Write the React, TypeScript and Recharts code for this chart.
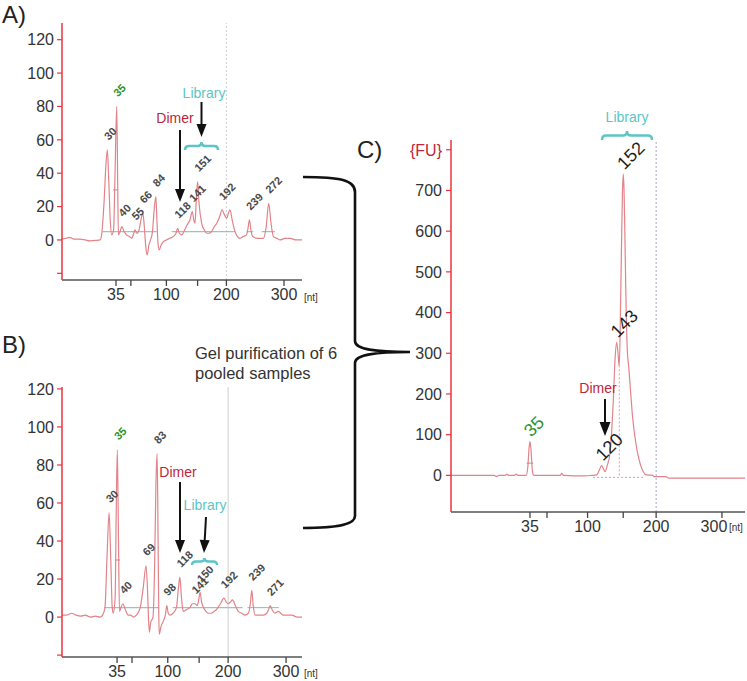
import React from 'react';
import { ComposedChart, Line, XAxis, YAxis, ReferenceLine, ReferenceDot } from 'recharts';

// x = migration position (arbitrary time units), y = fluorescence (FU)
const traceA: [number, number][] = [
  [18.75, 0.5], [19.6, 1], [20.4, 1.5], [21.2, 0.5], [22.5, 0.5], [23.6, 0], [24.6, -0.5], [25.8, -0.3],
  [26.7, 0], [27.0, 3], [27.5, 22], [27.9, 45], [28.2, 54], [28.5, 35], [28.8, 12], [29.1, 3], [29.5, 6],
  [29.8, 40], [30.15, 80], [30.35, 35], [30.5, 3], [30.85, 5], [31.2, 8], [31.7, 5], [32.2, 3], [32.8, 2],
  [33.3, 1], [33.7, 4], [33.95, 6], [34.3, 4], [34.8, 6], [35.2, 12], [35.6, 16], [35.9, 8], [36.2, -4],
  [36.5, -9], [36.85, -3], [37.2, 0], [37.6, 5], [37.95, 18], [38.3, 26], [38.55, 10], [38.75, -2], [39.0, -6],
  [39.4, -3], [39.85, -1], [40.5, 0], [41.25, 1], [41.9, 2], [42.5, 4], [42.85, 7], [43.2, 4], [43.7, 3],
  [44.3, 6], [44.8, 9], [45.4, 12], [45.9, 17], [46.2, 12], [46.45, 10], [46.75, 25], [47.0, 35], [47.3, 22],
  [47.85, 10], [48.4, 6], [48.9, 4], [49.4, 4], [49.9, 5], [50.5, 8], [51.0, 10], [51.6, 14], [52.1, 18],
  [52.6, 15], [53.1, 13], [53.4, 16], [53.75, 18], [54.2, 12], [54.8, 5], [55.3, 2], [55.8, 1], [56.5, 2],
  [57.2, 3], [57.5, 7], [57.8, 12], [58.1, 6], [58.5, 2], [59.5, 1], [60.7, 1], [61.3, 8], [61.8, 22],
  [62.3, 10], [62.8, 2], [63.5, 1], [64.2, 0], [65.2, 1], [66.25, 1], [67.5, 0], [68.75, 0],
];

const traceB: [number, number][] = [
  [18.6, 1], [19.5, 1], [20.6, 2], [21.5, 1], [22.5, 0.5], [23.4, 1], [24.5, 0], [25.5, 0.5], [26.5, 0],
  [27.0, 1], [27.5, 5], [27.9, 30], [28.35, 55], [28.7, 30], [29.0, 5], [29.2, 2], [29.6, 10], [29.85, 60],
  [30.06, 88], [30.3, 40], [30.5, 3], [30.8, 5], [31.2, 7], [31.7, 4], [32.3, 1], [32.8, 1], [33.4, 0],
  [34.0, 1], [34.8, 5], [35.4, 15], [36.0, 27], [36.3, 15], [36.5, 0], [36.7, -8], [36.95, -3], [37.45, 0],
  [37.8, 30], [38.05, 70], [38.3, 86], [38.5, 40], [38.65, 0], [38.75, -9], [39.1, -5], [39.6, -2], [40.0, 1],
  [40.3, 6], [40.6, 2], [41.0, 1], [41.6, 2], [42.3, 5], [42.7, 15], [43.0, 21], [43.35, 10], [43.7, 3],
  [44.4, 4], [45.1, 5], [45.6, 7], [46.1, 7], [46.6, 6], [46.9, 9], [47.2, 13], [47.5, 8], [47.9, 5],
  [48.4, 3], [48.9, 2], [49.5, 2], [50.1, 3], [50.6, 4], [51.4, 7], [52.15, 10], [52.6, 8], [53.0, 7],
  [53.5, 8], [53.9, 9], [54.5, 6], [55.1, 3], [55.8, 2], [56.5, 1], [57.2, 2], [57.6, 7], [57.9, 14],
  [58.2, 6], [58.6, 1], [59.5, 1], [60.3, 1], [61.0, 2], [61.4, 4], [61.7, 6], [62.1, 4], [62.7, 2],
  [63.4, 3], [63.9, 2], [64.4, 1], [65.3, 1], [66.2, 1], [67.3, 0], [68.3, 0],
];

const traceC: [number, number][] = [
  [15.6, 0], [18, 0], [20.9, 0], [23.5, 0], [23.9, -3], [24.3, 0], [25.5, 0], [25.75, 3], [26.1, 0],
  [27.2, 0], [27.45, 3], [27.8, 0], [29.3, 0], [29.6, 20], [29.85, 70], [30.0, 83], [30.2, 60], [30.45, 10],
  [30.7, 0], [33, 0], [35.5, 0], [35.8, 5], [36.1, 0], [38, -1], [40, -1], [41.25, 0], [42.15, 1],
  [42.6, 12], [43.07, 24], [43.4, 16], [43.67, 9], [44.1, 25], [44.58, 54], [44.9, 110], [45.2, 185],
  [45.5, 283], [45.8, 327], [46.05, 300], [46.28, 267], [46.53, 431], [46.7, 578], [46.85, 690], [47.0, 740],
  [47.15, 700], [47.3, 594], [47.5, 431], [47.74, 308], [48.0, 267], [48.23, 226], [48.7, 144], [49.3, 79],
  [49.9, 38], [50.65, 9], [51.27, 1], [52.4, 0], [52.6, -3], [54.8, -3], [55.3, -7], [60, -7], [65, -7],
  [69.2, -7],
];

// sized peaks: [position, FU, size label]
const peaksA: [number, number, string][] = [
  [28.2, 54, '30'], [30.15, 80, '35'], [31.2, 8, '40'], [33.95, 6, '55'], [35.6, 16, '66'], [38.3, 26, '84'],
  [42.85, 7, '118'], [45.9, 17, '141'], [47.0, 35, '151'], [52.1, 18, '192'], [57.8, 12, '239'], [61.8, 22, '272'],
];
const peaksB: [number, number, string][] = [
  [28.35, 55, '30'], [30.06, 88, '35'], [31.2, 7, '40'], [36.0, 27, '69'], [38.3, 86, '83'], [40.3, 6, '98'],
  [43.0, 21, '118'], [46.1, 7, '141'], [47.2, 13, '150'], [52.15, 10, '192'], [57.9, 14, '239'], [61.7, 6, '271'],
];
const peaksC: [number, number, string][] = [
  [30.0, 83, '35'], [43.07, 24, '120'], [45.8, 327, '143'], [47.0, 740, '152'],
];

// integration baselines (teal) [from, to, FU]
const baselinesA: [number, number, number][] = [[27.2, 38.5, 5], [41.6, 54.8, 5], [57.2, 58.6, 5], [60.35, 63.1, 5]];
const baselinesB: [number, number, number][] = [[27.3, 38.7, 5], [41.5, 56, 5], [57, 63.5, 5]];

const sizeTicks = [30, 33.1, 40.5, 47, 53, 65];
const sizeLabels = ['35', '', '100', '', '200', '300'];
const fuTicksAB = [-20, 0, 20, 40, 60, 80, 100, 120];
const fuLabelsAB = ['', '0', '20', '40', '60', '80', '100', '120'];
const fuTicksC = [0, 100, 200, 300, 400, 500, 600, 700, 800];
const fuLabelsC = ['0', '100', '200', '300', '400', '500', '600', '700', '{FU}'];

const FONT = '"Liberation Sans", Arial, Helvetica, sans-serif';
const AXIS_RED = '#e8343f';
const TRACE = '#e2838a';
const DIMER = '#c0263b';
const LIB = '#5cc5c5';
const MARKER = '#2f952f';

type PanelCfg = {
  left: number; top: number; width: number; height: number;
  margin: { top: number; right: number; bottom: number; left: number };
  yWidth: number; xHeight: number;
  trace: [number, number][]; peaks: [number, number, string][];
  xDomain: [number, number]; yDomain: [number, number];
  yTicks: number[]; yLabels: string[];
  baselines: [number, number, number][];
  big: boolean; markerBar: [number, number, number];
  gridDash: string;
};

function renderPanel(c: PanelCfg) {
  const data = c.trace.map(([t, fu]) => ({ t, fu }));
  const labelFont = c.big ? 18 : 11;
  const off = c.big ? [-3, -8] : [-1.5, -12];
  return (
    <div style={{ position: 'absolute', left: c.left, top: c.top }}>
      <ComposedChart width={c.width} height={c.height} data={data} margin={c.margin}>
        <XAxis
          dataKey="t" type="number" domain={c.xDomain} ticks={sizeTicks} allowDataOverflow interval={0}
          height={c.xHeight} axisLine={{ stroke: '#555', strokeWidth: 1.5 }}
          tickLine={{ stroke: '#444', strokeWidth: 1.3 }} tickSize={6} tickMargin={3}
          tick={(p: any) => {
            const i = sizeTicks.indexOf(p.payload.value);
            const shift = c.big && i === sizeTicks.length - 1 ? -8 : 0;
            return (
              <text x={p.x + shift} y={p.y} dy="0.71em" textAnchor="middle" fontSize={16} fill="#333" fontFamily={FONT}>
                {sizeLabels[i]}
              </text>
            );
          }}
        />
        <YAxis
          type="number" domain={c.yDomain} ticks={c.yTicks} allowDataOverflow width={c.yWidth} interval={0}
          axisLine={{ stroke: AXIS_RED, strokeWidth: 1.5 }} tickLine={{ stroke: AXIS_RED, strokeWidth: 1.2 }}
          tickSize={5} tickMargin={c.big ? 4 : 3}
          tick={(p: any) => {
            const i = c.yTicks.indexOf(p.payload.value);
            const txt = c.yLabels[i];
            return (
              <text x={p.x} y={p.y} dy="0.36em" textAnchor="end" fontSize={16}
                fill={txt === '{FU}' ? DIMER : '#333'} fontFamily={FONT}>
                {txt}
              </text>
            );
          }}
        />
        <ReferenceLine x={53} stroke={c.big ? '#a4a8c4' : '#cfcfcf'} strokeDasharray={c.gridDash} />
        {c.baselines.map(([a, b, v], i) => (
          <ReferenceLine key={'bl' + i} segment={[{ x: a, y: v }, { x: b, y: v }]} stroke="#9cc4bd" strokeWidth={1.2} />
        ))}
        <ReferenceLine
          segment={[{ x: c.markerBar[0], y: c.markerBar[2] }, { x: c.markerBar[1], y: c.markerBar[2] }]}
          stroke="#999" strokeWidth={1}
        />
        {c.big && (
          <ReferenceLine segment={[{ x: 41.5, y: -5 }, { x: 51, y: -5 }]} stroke="#e59aa0" strokeDasharray="2 2" />
        )}
        {c.big && (
          <ReferenceLine segment={[{ x: 46.28, y: 0 }, { x: 46.28, y: 267 }]} stroke="#e59aa0" strokeDasharray="2 2" />
        )}
        <Line dataKey="fu" type="monotone" stroke={TRACE} strokeWidth={1.2} dot={false} isAnimationActive={false} />
        {c.peaks.map(([t, fu, lab], i) => (
          <ReferenceDot
            key={'pk' + i} x={t} y={fu} r={0} ifOverflow="visible"
            shape={(p: any) => (
              <g transform={`translate(${p.cx + off[0]},${p.cy + off[1]}) rotate(-45)`}>
                <text x={0} y={0} dominantBaseline="central" textAnchor="start"
                  fontSize={labelFont} fontWeight={c.big ? 400 : 700} fontFamily={FONT}
                  fill={lab === '35' ? MARKER : c.big ? '#1e1e1e' : '#4a4a4a'}>
                  {lab}
                </text>
              </g>
            )}
          />
        ))}
      </ComposedChart>
    </div>
  );
}

function Arrow({ x1, y1, x2, y2, w = 10, l = 13 }: { x1: number; y1: number; x2: number; y2: number; w?: number; l?: number }) {
  const a = Math.atan2(y2 - y1, x2 - x1);
  const bx = x2 - l * Math.cos(a);
  const by = y2 - l * Math.sin(a);
  const px = (w / 2) * Math.sin(a);
  const py = (w / 2) * Math.cos(a);
  return (
    <g>
      <line x1={x1} y1={y1} x2={bx} y2={by} stroke="#111" strokeWidth={2} />
      <polygon points={`${x2},${y2} ${bx + px},${by - py} ${bx - px},${by + py}`} fill="#111" />
    </g>
  );
}

function Brace({ x1, x2, yTop, yEnd }: { x1: number; x2: number; yTop: number; yEnd: number }) {
  const m = (x1 + x2) / 2;
  const yb = yTop + (yEnd - yTop) * 0.5;
  const d = `M${x1},${yEnd} Q${x1},${yb} ${x1 + 4},${yb} L${m - 4},${yb} Q${m},${yb} ${m},${yTop} Q${m},${yb} ${m + 4},${yb} L${x2 - 4},${yb} Q${x2},${yb} ${x2},${yEnd}`;
  return <path d={d} fill="none" stroke={LIB} strokeWidth={2.5} />;
}

export default function App() {
  const panelA: PanelCfg = {
    left: 0, top: 0, width: 310, height: 320,
    margin: { top: 23, right: 8, bottom: 10, left: 0 }, yWidth: 62, xHeight: 30,
    trace: traceA, peaks: peaksA, xDomain: [18.75, 68.75], yDomain: [-24, 130],
    yTicks: fuTicksAB, yLabels: fuLabelsAB, baselines: baselinesA, big: false,
    markerBar: [29.4, 30.45, 30], gridDash: '2 2',
  };
  const panelB: PanelCfg = {
    left: 0, top: 360, width: 310, height: 321,
    margin: { top: 27, right: 8, bottom: 0, left: 0 }, yWidth: 62, xHeight: 24,
    trace: traceB, peaks: peaksB, xDomain: [18.6, 68.3], yDomain: [-21, 121],
    yTicks: fuTicksAB, yLabels: fuLabelsAB, baselines: baselinesB, big: false,
    markerBar: [29.6, 30.6, 30], gridDash: '',
  };
  const panelC: PanelCfg = {
    left: 340, top: 100, width: 407, height: 450,
    margin: { top: 40, right: 2, bottom: 8, left: 0 }, yWidth: 111, xHeight: 30,
    trace: traceC, peaks: peaksC, xDomain: [15.6, 69.2], yDomain: [-90, 824],
    yTicks: fuTicksC, yLabels: fuLabelsC, baselines: [], big: true,
    markerBar: [29.4, 30.6, 30], gridDash: '2 2',
  };

  return (
    <div style={{ position: 'absolute', left: 0, top: 0, width: 747, height: 681, background: '#fff', overflow: 'hidden', fontFamily: FONT }}>
      {renderPanel(panelA)}
      {renderPanel(panelB)}
      {renderPanel(panelC)}
      <svg width={747} height={681} style={{ position: 'absolute', left: 0, top: 0, pointerEvents: 'none' }} fontFamily={FONT}>
        <text x={2} y={23} fontSize={24} fill="#222">A)</text>
        <text x={2} y={353} fontSize={24} fill="#222">B)</text>
        <text x={357} y={158} fontSize={24} fill="#222">C)</text>

        <text x={304} y={301} fontSize={10} fill="#333">[nt]</text>
        <text x={304} y={677} fontSize={10} fill="#333">[nt]</text>
        <text x={729} y={531} fontSize={10} fill="#333">[nt]</text>

        {/* panel A annotations */}
        <text x={175} y={123} fontSize={14} fill={DIMER} textAnchor="middle">Dimer</text>
        <Arrow x1={180} y1={130} x2={180} y2={202} />
        <text x={204} y={98} fontSize={14} fill={LIB} textAnchor="middle">Library</text>
        <Arrow x1={201.5} y1={102} x2={201.5} y2={137} />
        <Brace x1={185} x2={218} yTop={142} yEnd={150} />

        {/* panel B annotations */}
        <text x={178} y={477} fontSize={14} fill={DIMER} textAnchor="middle">Dimer</text>
        <Arrow x1={180} y1={482} x2={180} y2={553} />
        <text x={205} y={510} fontSize={14} fill={LIB} textAnchor="middle">Library</text>
        <Arrow x1={206} y1={517} x2={204} y2={553} />
        <Brace x1={192} x2={217} yTop={558} yEnd={565} />

        {/* panel C annotations */}
        <text x={598} y={393} fontSize={14} fill={DIMER} textAnchor="middle">Dimer</text>
        <Arrow x1={605} y1={399} x2={605} y2={436} w={11} l={14} />
        <text x={627} y={122} fontSize={14} fill={LIB} textAnchor="middle">Library</text>
        <Brace x1={602} x2={652} yTop={131} yEnd={140} />

        {/* pooling brace */}
        <path
          d="M303,177 C340,177 355,180 355,192 L355,341 C355,349 372,352 410,352 C372,352 355,355 355,363 L355,516 C355,524 340,528 303,528"
          fill="none" stroke="#111" strokeWidth={2.6}
        />
        <text x={195} y={359} fontSize={16.5} fill="#333">Gel purification of 6</text>
        <text x={195} y={379} fontSize={16.5} fill="#333">pooled samples</text>
      </svg>
    </div>
  );
}
